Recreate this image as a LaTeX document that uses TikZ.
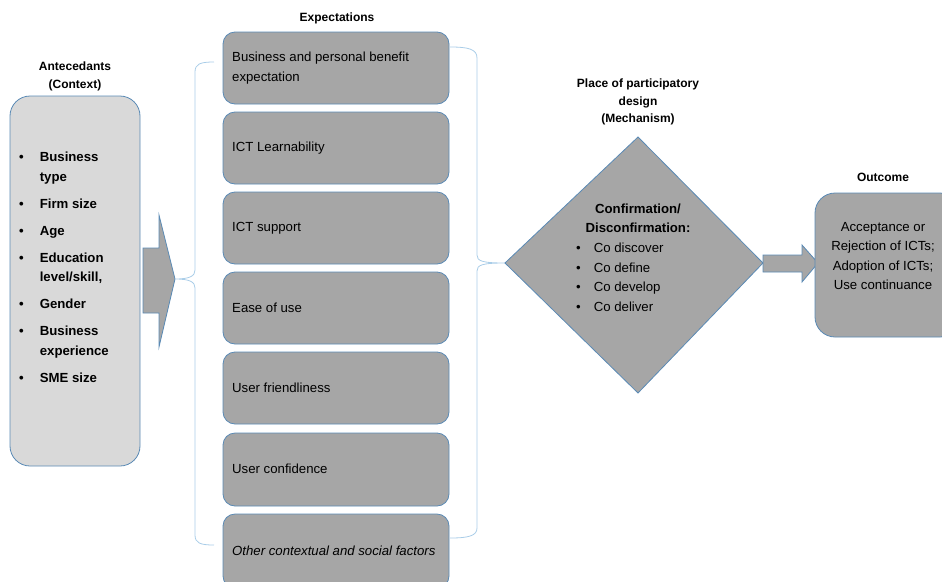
\documentclass[tikz,border=0pt]{standalone}
\usepackage{fontspec}
\setmainfont{Liberation Sans}
\begin{document}
\begin{tikzpicture}[x=1pt,y=-1pt,
  outl/.style={draw=bordc, line width=0.8pt},
  ebox/.style={outl, fill=boxg, rounded corners=12pt},
  btxt/.style={font=\fontsize{13.2}{19.5}\selectfont, inner sep=0pt},
  ttl/.style={font=\fontsize{12}{17.5}\selectfont\bfseries, align=center, inner sep=0pt},
  brc/.style={draw=bracec, line width=0.8pt}
]
\definecolor{bordc}{HTML}{5A8AB5}
\definecolor{boxg}{HTML}{A6A6A6}
\definecolor{lightg}{HTML}{D9D9D9}
\definecolor{bracec}{HTML}{A9CDE8}
\useasboundingbox (0,0) rectangle (942,581);

% Titles
\node[ttl] (tant) at (75,76.5) {Antecedants\\(Context)};
\node[ttl] (texp) at (337,18) {Expectations};
\node[ttl] (tmech) at (638,102) {Place of participatory\\design\\(Mechanism)};
\node[ttl] (tout) at (883,177) {Outcome};

% Left context box
\draw[outl, fill=lightg, rounded corners=20pt] (10,96) rectangle (140,466);
\node[btxt, anchor=north west, font=\fontsize{13.2}{19.5}\selectfont\bfseries] (ctx) at (19,148) {%
\begin{tabular}{@{}l@{\hspace{16pt}}l@{}}
\textbullet & Business\\ & type\\[7.5pt]
\textbullet & Firm size\\[7.5pt]
\textbullet & Age\\[7.5pt]
\textbullet & Education\\ & level/skill,\\[7.5pt]
\textbullet & Gender\\[7.5pt]
\textbullet & Business\\ & experience\\[7.5pt]
\textbullet & SME size
\end{tabular}};

% Big arrow
\draw[outl, fill=boxg] (143,248) -- (159,248) -- (159,215) -- (175,279) -- (159,347) -- (159,313) -- (143,313) -- cycle;
\coordinate (bigtip) at (175,279);

% Left brace
\coordinate (lbtop) at (214,62);
\coordinate (lbbot) at (214,545);
\draw[brc] (lbtop) .. controls (200,62) and (195,64) .. (195,72) -- (195,270)
  .. controls (195,276) and (190,279) .. (bigtip)
  .. controls (190,279) and (195,282) .. (195,288) -- (195,535)
  .. controls (195,543) and (200,545) .. (lbbot);

% Right brace
\coordinate (dleft) at (505,263);
\draw[brc] (450,47) .. controls (468,47) and (477,49) .. (477,58) -- (477,255)
  .. controls (477,261) and (482,263) .. (dleft)
  .. controls (482,263) and (477,265) .. (477,271) -- (477,528)
  .. controls (477,536) and (468,538) .. (450,538);

% Expectation boxes
\foreach \i/\t/\b in {1/32/104, 2/112/184, 3/192/264, 4/272/344, 5/352/424, 6/433/506, 7/514/588}{
  \draw[ebox] (223,\t) rectangle (449,\b);
}
\node[btxt, anchor=west, align=left] (e1) at (232,68) {Business and personal benefit\\expectation};
\node[btxt, anchor=west] (e2) at (232,148) {ICT Learnability};
\node[btxt, anchor=west] (e3) at (232,228) {ICT support};
\node[btxt, anchor=west] (e4) at (232,308) {Ease of use};
\node[btxt, anchor=west] (e5) at (232,388) {User friendliness};
\node[btxt, anchor=west] (e6) at (232,469) {User confidence};
\node[btxt, anchor=west, font=\fontsize{13.2}{19.5}\selectfont\itshape] (e7) at (232,551) {Other contextual and social factors};

% Diamond
\draw[outl, fill=boxg] (dleft) -- (638,137) -- (763,263) -- (638,393) -- cycle;
\coordinate (dright) at (763,263);
\node[btxt, font=\fontsize{13.2}{19.5}\selectfont\bfseries, align=center] (dhead) at (638,218.5) {Confirmation/\\Disconfirmation:};
\node[btxt, anchor=north west] (dlist) at (576,239) {%
\begin{tabular}{@{}l@{\hspace{13pt}}l@{}}
\textbullet & Co discover\\
\textbullet & Co define\\
\textbullet & Co develop\\
\textbullet & Co deliver
\end{tabular}};

% Small arrow
\draw[outl, fill=boxg] (dright) -- (763,255) -- (802,255) -- (802,245) -- (818,263) -- (802,282) -- (802,272) -- (763,272) -- cycle;

% Outcome box
\draw[outl, fill=boxg, rounded corners=20pt] (815,193) rectangle (960,337);
\node[btxt, align=center] (otxt) at (883,256) {Acceptance or\\Rejection of ICTs;\\Adoption of ICTs;\\Use continuance};
\end{tikzpicture}
\end{document}
